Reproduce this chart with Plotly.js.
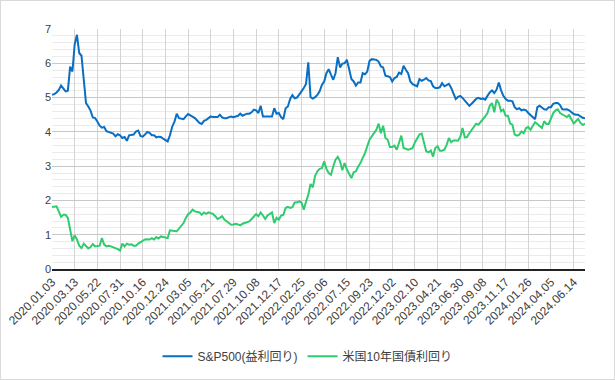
<!DOCTYPE html>
<html>
<head>
<meta charset="utf-8">
<script src="https://cdn.plot.ly/plotly-3.0.1.min.js"></script>
<style>
html,body{margin:0;padding:0;background:#fff;}
#chart{width:613px;height:378px;border:1px solid #d9d9d9;}
</style>
</head>
<body>
<div id="chart"></div>
<script>
// Tick labels (every 10th weekly category)
const tickLabels = ["2020.01.03","2020.03.13","2020.05.22","2020.07.31","2020.10.16","2020.12.24",
  "2021.03.05","2021.05.21","2021.07.29","2021.10.08","2021.12.17","2022.02.25","2022.05.06",
  "2022.07.15","2022.09.23","2022.12.02","2023.02.10","2023.04.21","2023.06.30","2023.09.08",
  "2023.11.17","2024.01.26","2024.04.05","2024.06.14"];

// S&P500 earnings yield (%)
const spYield = [
  5.08,5.10,5.15,5.22,5.35,5.25,5.18,5.20,5.90,5.76,
  6.55,6.83,6.30,6.22,5.42,4.84,4.74,4.62,4.42,4.40,
  4.30,4.18,4.12,4.14,4.02,4.00,3.98,3.95,3.87,3.93,
  3.90,3.82,3.85,3.74,3.90,3.90,3.92,4.01,4.04,3.88,
  3.86,3.92,4.00,3.97,3.90,3.90,3.84,3.86,3.85,3.80,
  3.77,3.72,3.90,4.15,4.30,4.53,4.40,4.39,4.37,4.45,
  4.52,4.48,4.45,4.40,4.33,4.26,4.23,4.32,4.35,4.40,
  4.45,4.43,4.43,4.43,4.50,4.42,4.40,4.40,4.43,4.45,
  4.43,4.45,4.47,4.53,4.47,4.50,4.53,4.53,4.57,4.65,
  4.63,4.55,4.76,4.45,4.45,4.45,4.45,4.45,4.69,4.53,
  4.55,4.43,4.37,4.69,4.74,4.96,5.07,4.98,5.00,5.11,
  5.18,5.28,5.40,6.03,5.01,4.97,5.01,5.08,5.18,5.37,
  5.47,5.71,5.83,5.67,5.52,5.71,6.18,5.88,5.99,6.00,
  6.10,5.83,5.54,5.47,5.35,5.44,5.44,5.71,5.68,5.76,
  6.07,6.12,6.12,6.10,6.05,5.91,5.88,5.64,5.62,5.60,
  5.47,5.57,5.60,5.73,5.69,5.93,5.81,5.71,5.47,5.39,
  5.36,5.33,5.54,5.49,5.52,5.57,5.50,5.48,5.33,5.28,
  5.28,5.30,5.42,5.33,5.36,5.40,5.28,5.13,4.96,5.02,
  5.05,4.99,4.92,4.84,4.76,4.82,4.89,4.96,4.99,4.96,
  4.97,4.94,5.05,5.15,5.21,5.13,5.23,5.44,5.21,5.05,
  4.96,4.91,4.91,4.89,4.72,4.66,4.69,4.63,4.65,4.63,
  4.55,4.49,4.43,4.37,4.72,4.76,4.71,4.66,4.65,4.72,
  4.72,4.82,4.84,4.84,4.78,4.66,4.65,4.66,4.63,4.58,
  4.52,4.50,4.50,4.45,4.41,4.40
];

// US 10-year Treasury yield (%)
const us10y = [
  1.81,1.83,1.83,1.68,1.52,1.58,1.58,1.49,1.20,0.81,
  0.98,0.86,0.68,0.61,0.74,0.66,0.60,0.64,0.73,0.66,
  0.66,0.68,0.90,0.71,0.66,0.68,0.66,0.64,0.62,0.58,
  0.54,0.74,0.66,0.74,0.71,0.72,0.68,0.68,0.74,0.78,
  0.84,0.86,0.87,0.86,0.90,0.86,0.93,0.89,0.95,0.93,
  0.93,0.90,1.13,1.11,1.11,1.10,1.17,1.24,1.34,1.49,
  1.60,1.65,1.73,1.68,1.67,1.65,1.58,1.65,1.61,1.65,
  1.63,1.61,1.54,1.46,1.49,1.54,1.44,1.39,1.32,1.29,
  1.30,1.32,1.30,1.27,1.32,1.34,1.37,1.39,1.46,1.54,
  1.60,1.54,1.65,1.56,1.46,1.56,1.60,1.65,1.34,1.49,
  1.44,1.56,1.58,1.78,1.81,1.78,1.80,1.94,1.94,1.97,
  1.94,1.73,1.97,2.16,2.48,2.38,2.72,2.85,2.92,2.94,
  3.14,2.92,2.80,2.75,2.99,3.19,3.27,3.14,2.88,3.09,
  2.90,2.75,2.65,2.82,2.85,2.99,3.09,3.24,3.38,3.58,
  3.77,3.87,3.96,4.06,4.24,3.96,4.18,3.82,3.77,3.56,
  3.56,3.60,3.48,3.69,3.89,3.53,3.50,3.48,3.50,3.53,
  3.69,3.82,3.92,3.95,3.69,3.43,3.40,3.46,3.28,3.53,
  3.58,3.45,3.45,3.48,3.62,3.82,3.70,3.75,3.75,3.74,
  3.85,4.11,3.84,3.85,3.96,4.06,4.16,4.24,4.21,4.28,
  4.37,4.45,4.55,4.76,4.84,4.57,4.94,4.84,4.60,4.65,
  4.47,4.47,4.24,4.21,3.92,3.89,3.92,4.01,3.96,4.11,
  4.14,4.06,4.18,4.28,4.23,4.18,4.11,4.31,4.23,4.23,
  4.40,4.55,4.63,4.66,4.55,4.50,4.47,4.43,4.49,4.37,
  4.24,4.31,4.38,4.26,4.20,4.24
];

// Build weekly category labels: each tick label followed by weekly dates
function fmt(d){
  const m = String(d.getMonth()+1).padStart(2,'0');
  const dd = String(d.getDate()).padStart(2,'0');
  return d.getFullYear()+'.'+m+'.'+dd;
}
const dates = [];
for (let t = 0; t < tickLabels.length && dates.length < spYield.length; t++) {
  const p = tickLabels[t].split('.');
  const base = new Date(+p[0], +p[1]-1, +p[2], 12);
  const n = (t === tickLabels.length-1) ? spYield.length - dates.length : 10;
  for (let k = 0; k < n && dates.length < spYield.length; k++) {
    const d = new Date(base.getTime() + k*7*86400000);
    dates.push(k === 0 ? tickLabels[t] : fmt(d));
  }
}

const font = "Liberation Sans, Arial, Noto Sans CJK JP, sans-serif";
const traces = [
  {x: dates, y: spYield, type: 'scatter', mode: 'lines', name: 'S&P500(益利回り)',
   line: {color: '#0a6fc2', width: 2}},
  {x: dates, y: us10y, type: 'scatter', mode: 'lines', name: '米国10年国債利回り',
   line: {color: '#2ecc6e', width: 2}}
];
const layout = {
  width: 613, height: 378,
  margin: {l: 51, r: 29, t: 28, b: 110},
  paper_bgcolor: '#fff', plot_bgcolor: '#fff',
  font: {family: font, size: 11, color: '#404040'},
  showlegend: true,
  legend: {orientation: 'h', xref: 'container', yref: 'container',
           x: 0.50, xanchor: 'center', y: 0.06, yanchor: 'middle',
           font: {family: font, size: 12, color: '#404040'}, itemgap: 20},
  xaxis: {type: 'category', tickmode: 'array', tickvals: tickLabels, ticktext: tickLabels,
          tickangle: -45, showgrid: true, gridcolor: '#d4d4d4', gridwidth: 1,
          showline: true, linecolor: '#222', linewidth: 1.5, ticks: '',
          tickfont: {size: 12, color: '#404040'}, zeroline: false, automargin: false,
          range: [0, spYield.length-1]},
  yaxis: {range: [0, 7], dtick: 1, tick0: 0, showgrid: true, gridcolor: '#c8c8c8', gridwidth: 1,
          minor: {dtick: 0.2, showgrid: true, gridcolor: '#ebebeb', gridwidth: 1},
          zeroline: false, showline: false, ticks: '', tickfont: {size: 11, color: '#404040'},
          automargin: false}
};
Plotly.newPlot('chart', traces, layout, {displayModeBar: false, staticPlot: true});
</script>
</body>
</html>
